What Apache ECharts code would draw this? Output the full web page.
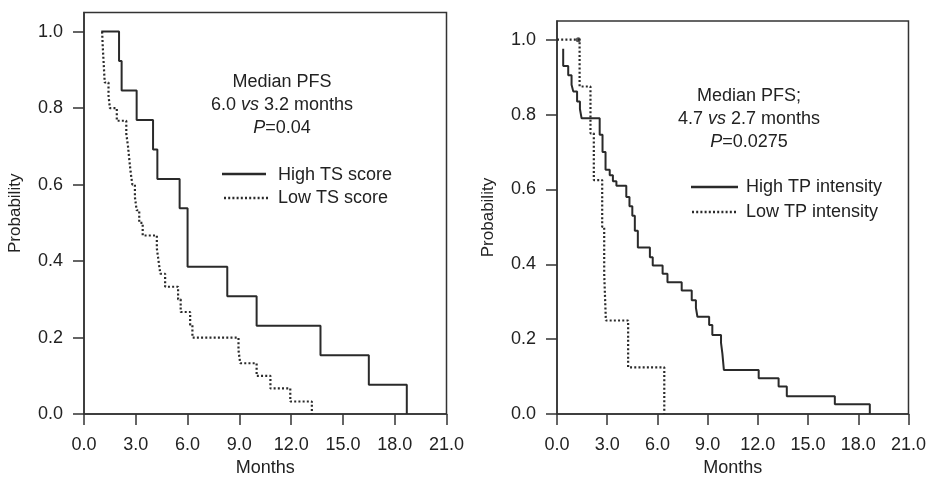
<!DOCTYPE html>
<html><head><meta charset="utf-8">
<script src="https://cdn.jsdelivr.net/npm/echarts@6/dist/echarts.min.js"></script>
<style>html,body{margin:0;padding:0;background:#fff}#c{width:929px;height:482px}</style>
</head><body><div id="c"></div>
<script>
// Tick labels
const xTicks = [0, 3, 6, 9, 12, 15, 18, 21];
const yTicks = [0, 0.2, 0.4, 0.6, 0.8, 1.0];

// Left panel: PFS by TS score (months, probability after step)
const highTS_time = [1.0, 2.03, 2.18, 3.05, 4.0, 4.25, 5.54, 6.0, 8.3, 10.0, 13.7, 16.5, 18.7];
const highTS_prob = [1.0, 0.923, 0.846, 0.769, 0.692, 0.615, 0.538, 0.385, 0.308, 0.231, 0.154, 0.077, 0.0];
const lowTS_time = [1.05, 1.08, 1.12, 1.16, 1.2, 1.42, 1.5, 1.9, 2.45, 2.55, 2.62, 2.7, 2.8, 2.95, 3.05, 3.2, 3.4,
                    4.22, 4.32, 4.42, 4.7, 5.45, 5.6, 6.15, 6.28, 8.95, 9.05, 10.0, 10.8, 11.95, 13.2];
const lowTS_prob = [1.0, 0.967, 0.933, 0.9, 0.867, 0.833, 0.8, 0.767, 0.733, 0.7, 0.667, 0.633, 0.6, 0.567, 0.533, 0.5, 0.467,
                    0.433, 0.4, 0.367, 0.333, 0.3, 0.267, 0.233, 0.2, 0.167, 0.133, 0.1, 0.067, 0.033, 0.0];

// Right panel: PFS by TP intensity
const highTP_time = [0.37, 0.37, 0.67, 0.87, 0.97, 1.2, 1.37, 1.47, 2.55, 2.72, 2.9, 3.15, 3.34, 3.55, 4.14, 4.33, 4.5, 4.65, 4.83,
                     5.55, 5.72, 6.31, 6.6, 7.45, 8.05, 8.3, 8.39, 9.09, 9.28, 9.8, 9.88, 9.97, 12.05, 13.24, 13.73, 16.6, 18.69];
const highTP_prob = [0.976, 0.93, 0.905, 0.88, 0.862, 0.835, 0.815, 0.79, 0.746, 0.70, 0.653, 0.638, 0.622, 0.61, 0.58, 0.555, 0.53, 0.49, 0.445,
                     0.419, 0.397, 0.375, 0.352, 0.33, 0.304, 0.284, 0.26, 0.238, 0.211, 0.19, 0.162, 0.118, 0.096, 0.074, 0.048, 0.026, 0.0];
const lowTP_time = [0, 1.35, 2.0, 2.2, 2.7, 2.82, 2.92, 4.25, 6.41];
const lowTP_prob = [1.0, 0.875, 0.75, 0.625, 0.5, 0.375, 0.25, 0.125, 0.0];
const lowTP_censor = [[1.27, 1.0]];

const FONT = 'Liberation Sans, Arial, sans-serif';
const INK = '#2a2a2a';
const km = (t, p) => t.map((x, i) => [x, p[i]]);

function xAx(gi) {
  return {
    gridIndex: gi, type: 'value', min: 0, max: 21, interval: 3,
    name: 'Months', nameLocation: 'middle', nameGap: 44,
    nameTextStyle: {fontSize: 18, fontFamily: FONT, color: '#222'},
    axisLine: {show: true, onZero: false, lineStyle: {color: '#333', width: 1.5}},
    axisTick: {show: true, length: 11, customValues: xTicks, lineStyle: {color: '#333', width: 1.5}},
    axisLabel: {margin: 22, fontSize: 18, fontFamily: FONT, color: '#222', customValues: xTicks,
                formatter: v => v.toFixed(1)},
    splitLine: {show: false}
  };
}
function yAx(gi) {
  return {
    gridIndex: gi, type: 'value', min: 0, max: 1.05, interval: 0.2,
    name: 'Probability', nameLocation: 'middle', nameGap: 60,
    nameTextStyle: {fontSize: 17, fontFamily: FONT, color: '#222'},
    axisLine: {show: true, onZero: false, lineStyle: {color: '#333', width: 1.5}},
    axisTick: {show: true, length: 11, customValues: yTicks, lineStyle: {color: '#333', width: 1.5}},
    axisLabel: {margin: 21, fontSize: 18, fontFamily: FONT, color: '#222', customValues: yTicks,
                formatter: v => v.toFixed(1)},
    splitLine: {show: false}
  };
}
const solid = {color: INK, width: 2};
const dotted = {color: INK, width: 2.2, type: [2, 2.2]};

function txt(x, y, text, align, rich) {
  return {type: 'text', z: 10, style: {x, y, text, align: align || 'center', verticalAlign: 'middle',
    fontSize: 18, fontFamily: FONT, fill: '#222', rich: rich || {}}};
}
const it = {i: {fontStyle: 'italic', fontSize: 18, fontFamily: FONT, fill: '#222'}};
function ln(x1, y1, x2, y2, dash) {
  return {type: 'line', z: 10, shape: {x1, y1, x2, y2},
    style: {stroke: INK, lineWidth: 2.4, lineDash: dash ? [2, 2.2] : null}};
}

const chart = echarts.init(document.getElementById('c'), null, {renderer: 'canvas'});
chart.setOption({
  backgroundColor: '#fff',
  animation: false,
  grid: [
    {left: 84, right: 482.5, top: 12.5, bottom: 63, show: true, borderColor: '#333', borderWidth: 1.5},
    {left: 557, right: 18.3, top: 21, bottom: 64, show: true, borderColor: '#333', borderWidth: 1.5}
  ],
  xAxis: [xAx(0), xAx(1)],
  yAxis: [yAx(0), yAx(1)],
  series: [
    {name: 'High TS score', type: 'line', xAxisIndex: 0, yAxisIndex: 0, step: 'end', symbol: 'none',
     data: km(highTS_time, highTS_prob), lineStyle: solid},
    {name: 'Low TS score', type: 'line', xAxisIndex: 0, yAxisIndex: 0, step: 'end', symbol: 'none',
     data: km(lowTS_time, lowTS_prob), lineStyle: dotted},
    {name: 'High TP intensity', type: 'line', xAxisIndex: 1, yAxisIndex: 1, step: 'end', symbol: 'none',
     data: km(highTP_time, highTP_prob), lineStyle: solid},
    {name: 'Low TP intensity', type: 'line', xAxisIndex: 1, yAxisIndex: 1, step: 'end', symbol: 'none',
     data: km(lowTP_time, lowTP_prob), lineStyle: dotted},
    {name: 'Censored', type: 'scatter', xAxisIndex: 1, yAxisIndex: 1, symbol: 'circle', symbolSize: 5,
     data: lowTP_censor, itemStyle: {color: INK}}
  ],
  graphic: [
    txt(282, 82, 'Median PFS'),
    txt(282, 105, '6.0 {i|vs} 3.2 months', 'center', it),
    txt(282, 128, '{i|P}=0.04', 'center', it),
    ln(222, 174, 266, 174, false),
    ln(224, 198, 268, 198, true),
    txt(278, 175, 'High TS score', 'left'),
    txt(278, 198, 'Low TS score', 'left'),
    txt(749, 96, 'Median PFS;'),
    txt(749, 119, '4.7 {i|vs} 2.7 months', 'center', it),
    txt(749, 142, '{i|P}=0.0275', 'center', it),
    ln(691, 187, 738, 187, false),
    ln(692, 212, 738, 212, true),
    txt(746, 187, 'High TP intensity', 'left'),
    txt(746, 212, 'Low TP intensity', 'left')
  ]
});
</script></body></html>
